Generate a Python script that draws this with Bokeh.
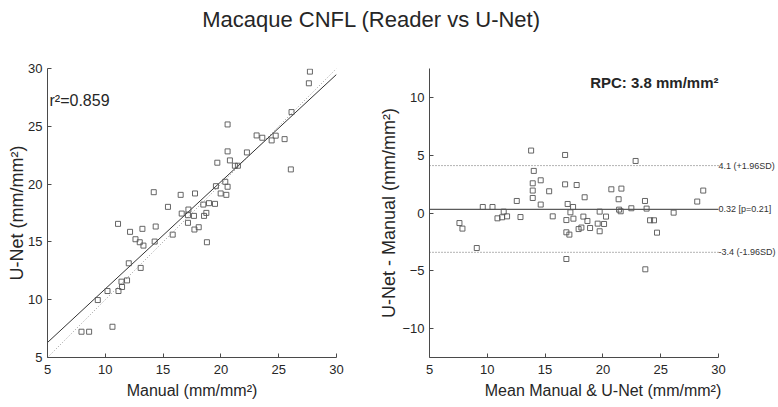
import numpy as np
from bokeh.plotting import figure
from bokeh.models import Range1d, Label, FixedTicker
from bokeh.layouts import column, row
from bokeh.embed import file_html
from bokeh.resources import INLINE

# ---------------- data ----------------
manual = [27.70, 27.61, 26.11, 20.58, 23.09, 23.58, 24.39, 24.74, 25.51, 26.05,
          20.58, 22.25, 19.69, 20.78, 21.21, 21.47, 19.57, 20.38, 20.58, 14.19,
          16.52, 17.76, 19.98, 20.47, 15.42, 17.19, 18.48, 18.97, 19.49, 16.61,
          17.15, 17.67, 18.74, 18.54, 17.15, 17.71, 18.08, 18.79, 15.83, 11.10,
          12.14, 13.21, 14.36, 12.61, 12.98, 13.30, 14.27, 12.03, 13.06, 11.40,
          11.88, 11.45, 10.19, 11.14, 9.35, 10.62, 7.94, 8.60]
unet = [29.73, 28.72, 26.23, 25.16, 24.21, 24.01, 23.78, 24.19, 23.89, 21.27,
        22.83, 22.74, 21.85, 22.05, 21.59, 21.59, 19.82, 20.20, 19.77, 19.30,
        19.07, 19.19, 19.19, 19.07, 18.03, 17.80, 18.23, 18.35, 18.29, 17.45,
        17.31, 17.25, 17.51, 17.25, 16.65, 16.07, 16.27, 14.97, 15.63, 16.56,
        15.87, 16.13, 16.33, 15.23, 14.97, 14.68, 15.03, 13.15, 12.75, 11.56,
        11.67, 11.10, 10.75, 10.75, 9.97, 7.66, 7.23, 7.23]

ba_mean = [13.79, 16.73, 22.83, 14.02, 13.93, 14.62, 16.73, 17.73, 13.93, 15.35,
           20.73, 21.60, 28.68, 13.93, 12.55, 18.42, 21.36, 23.64, 28.16, 14.62,
           16.95, 17.42, 9.61, 10.45, 11.42,
           10.88, 11.28, 11.71, 12.87, 15.66, 17.19, 16.84, 17.45, 18.31, 18.66,
           19.72, 19.55, 20.10, 20.27, 17.90, 18.14, 18.89, 19.72, 16.84, 17.10,
           21.40, 21.54, 22.46, 23.78, 24.08, 24.42, 24.68, 26.12, 7.59, 7.85,
           9.09, 16.84, 23.67]
ba_diff = [5.40, 5.02, 4.50, 3.64, 2.57, 2.83, 2.48, 2.42, 1.94, 1.88,
           2.05, 2.11, 1.94, 1.30, 1.04, 1.36, 1.19, 1.04, 0.99, 0.73,
           0.78, 0.52, 0.52, 0.52, 0.12,
           -0.46, -0.37, -0.29, -0.35, -0.29, 0.06, -0.61, -0.49, -0.31, -0.69,
           0.12, -0.92, -0.95, -0.31, -1.39, -1.26, -1.30, -1.58, -1.67, -1.87,
           0.29, 0.15, 0.41, 0.38, -0.63, -0.63, -1.70, 0.03, -0.87, -1.35,
           -3.03, -3.98, -4.87]

bias = 0.32
p_value = 0.21
loa_upper = 4.1
loa_lower = -3.4
r_squared = 0.859
rpc = 3.8

ticks_xy = [5, 10, 15, 20, 25, 30]
ticks_diff = [-10, -5, 0, 5, 10]
diff_limits = [-12.5, 12.5]

TITLE = "Macaque CNFL (Reader vs U-Net)"
FONT = "Liberation Sans"
TXT = "#262626"
AX = "#4a4a4a"
MARK = "#555555"

# layout sizes (pixels)
W = 776
TITLE_H = 37
FRAME = 289
P1_LEFT, P1_RIGHT = 47, 20
P2_LEFT = 73
BORDER_TOP, BORDER_BOTTOM = 31, 40
P2_FRAME_W = W - (P1_LEFT + FRAME + P1_RIGHT) - P2_LEFT
px_per_unit = FRAME / (ticks_xy[-1] - ticks_xy[0])
p2_x_end = ticks_xy[-1] + (P2_FRAME_W - FRAME) / px_per_unit


def style(p, xlabel, ylabel):
    p.xgrid.visible = False
    p.ygrid.visible = False
    p.outline_line_color = None
    p.background_fill_color = "white"
    p.border_fill_color = "white"
    for ax in (p.xaxis[0], p.yaxis[0]):
        ax.axis_line_color = AX
        ax.axis_line_width = 1
        ax.major_tick_line_color = AX
        ax.major_tick_in = 4
        ax.major_tick_out = 0
        ax.minor_tick_line_color = None
        ax.major_label_text_font = FONT
        ax.major_label_text_font_size = "13px"
        ax.major_label_text_color = TXT
        ax.axis_label_text_font = FONT
        ax.axis_label_text_font_style = "normal"
        ax.axis_label_text_color = TXT
    p.xaxis.axis_label = xlabel
    p.yaxis.axis_label = ylabel
    p.xaxis.axis_label_text_font_size = "16px"
    p.yaxis.axis_label_text_font_size = "18px"
    p.xaxis.major_label_standoff = 7
    p.xaxis.axis_label_standoff = 5
    p.yaxis.major_label_standoff = 5
    p.yaxis.axis_label_standoff = 0
    p.xaxis.ticker = FixedTicker(ticks=ticks_xy)
    p.xaxis.bounds = (ticks_xy[0], ticks_xy[-1])


# ---------------- title strip ----------------
pt = figure(width=W, height=TITLE_H, x_range=Range1d(0, W), y_range=Range1d(0, TITLE_H),
            toolbar_location=None, output_backend="svg", min_border=0)
pt.axis.visible = False
pt.grid.visible = False
pt.outline_line_color = None
pt.add_layout(Label(x=371, y=TITLE_H - 19, text=TITLE, text_align="center",
                    text_baseline="middle", text_font=FONT, text_font_size="22px",
                    text_color=TXT))

# ---------------- left: scatter ----------------
p1 = figure(frame_width=FRAME, frame_height=FRAME,
            x_range=Range1d(ticks_xy[0], ticks_xy[-1]), y_range=Range1d(ticks_xy[0], ticks_xy[-1]),
            toolbar_location=None, output_backend="svg",
            min_border_left=P1_LEFT, min_border_right=P1_RIGHT,
            min_border_top=BORDER_TOP, min_border_bottom=BORDER_BOTTOM)
style(p1, "Manual (mm/mm²)", "U-Net (mm/mm²)")
p1.yaxis.ticker = FixedTicker(ticks=ticks_xy)
p1.yaxis.axis_label_standoff = -2

slope, intercept = np.polyfit(manual, unet, 1)
fit_x = [ticks_xy[0], ticks_xy[-1]]
fit_y = [intercept + slope * v for v in fit_x]
p1.line(fit_x, fit_x, line_color="#9a9a9a", line_dash="1 2", line_width=1)
p1.line(fit_x, fit_y, line_color="#333333", line_width=1)
p1.scatter(manual, unet, marker="square", size=5, fill_color=None,
           line_color=MARK, line_width=0.9)
p1.add_layout(Label(x=ticks_xy[0], y=27.2, x_offset=2, text=f"r²={r_squared}",
                    text_baseline="middle", text_font=FONT, text_font_size="16px",
                    text_color=TXT))

# ---------------- right: Bland-Altman ----------------
p2 = figure(frame_width=P2_FRAME_W, frame_height=FRAME,
            x_range=Range1d(ticks_xy[0], p2_x_end), y_range=Range1d(*diff_limits),
            toolbar_location=None, output_backend="svg",
            min_border_left=P2_LEFT, min_border_right=0,
            min_border_top=BORDER_TOP, min_border_bottom=BORDER_BOTTOM)
style(p2, "Mean Manual & U-Net (mm/mm²)", "U-Net - Manual (mm/mm²)")
p2.yaxis.ticker = FixedTicker(ticks=ticks_diff)

seg_x = [ticks_xy[0], ticks_xy[-1]]
p2.line(seg_x, [loa_upper, loa_upper], line_color="#666666", line_dash="1 2", line_width=1)
p2.line(seg_x, [loa_lower, loa_lower], line_color="#666666", line_dash="1 2", line_width=1)
p2.line(seg_x, [bias, bias], line_color="#333333", line_width=1)
p2.scatter(ba_mean, ba_diff, marker="square", size=5, fill_color=None,
           line_color=MARK, line_width=0.9)

for yv, txt in [(loa_upper, f"{loa_upper} (+1.96SD)"),
                (bias, f"{bias:.2f} [p={p_value:.2f}]"),
                (loa_lower, f"{loa_lower} (-1.96SD)")]:
    p2.add_layout(Label(x=ticks_xy[-1], y=yv, x_offset=0, text=txt,
                        text_baseline="middle", text_font=FONT, text_font_size="9px",
                        text_color="#333333"))

p2.add_layout(Label(x=ticks_xy[-1], y=11.3, text=f"RPC: {rpc} mm/mm²",
                    text_align="right", text_baseline="middle", text_font=FONT,
                    text_font_size="15px", text_font_style="bold", text_color=TXT))

layout = column(pt, row(p1, p2))
open("out.html", "w").write(file_html(layout, INLINE))
